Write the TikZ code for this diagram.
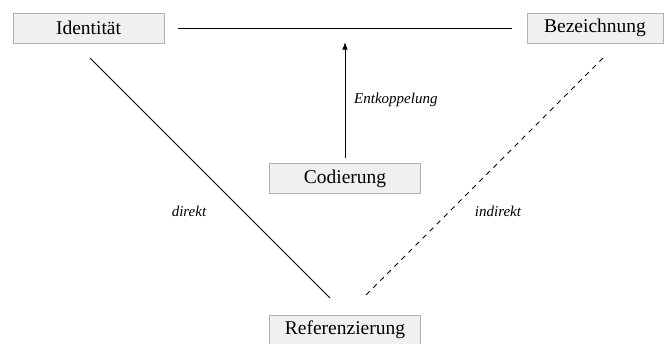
\documentclass[tikz,border=0pt]{standalone}
\usepackage{fontspec}
\setmainfont{Liberation Serif}
\usetikzlibrary{arrows.meta}
\begin{document}
\begin{tikzpicture}[x=1pt,y=-1pt,
  conceptbox/.style={draw=black!30, fill=black!6, line width=0.9pt,
    minimum width=151pt, minimum height=30pt, inner sep=0pt,
    font=\fontsize{19.5}{22}\selectfont},
  edgelabel/.style={font=\itshape\fontsize{15}{17}\selectfont, inner sep=0pt},
  link/.style={line width=1pt}]
\useasboundingbox (0,0) rectangle (666,343);

% concept boxes
\node[conceptbox, minimum width=151pt] (ident) at (88.5,28) {Identität};
\node[conceptbox, minimum width=136pt] (bez) at (595,28) {Bezeichnung};
\node[conceptbox] (cod) at (345,178.5) {Codierung};
\node[conceptbox] (ref) at (345,330) {Referenzierung};

% anchor points of the connectors
\coordinate (topL) at (178,28);
\coordinate (topR) at (512,28);
\coordinate (arrEnd) at (345,42);
\coordinate (dirA) at (90,58);
\coordinate (dirB) at (330,298);
\coordinate (indA) at (603,58);
\coordinate (indB) at (363,298);

% connectors
\draw[link] (topL) -- (topR);
\draw[link, -{Latex[length=7.5pt,width=5.5pt]}] (cod.north) ++(0,-5) -- (arrEnd);
\draw[link] (dirA) -- (dirB);
\draw[link, dash pattern=on 5pt off 5pt] (indA) -- (indB);

% labels
\node[edgelabel, anchor=west] (entk) at (354,100) {Entkoppelung};
\node[edgelabel] (direkt) at (189,211) {direkt};
\node[edgelabel] (indirekt) at (498,211) {indirekt};
\end{tikzpicture}
\end{document}
